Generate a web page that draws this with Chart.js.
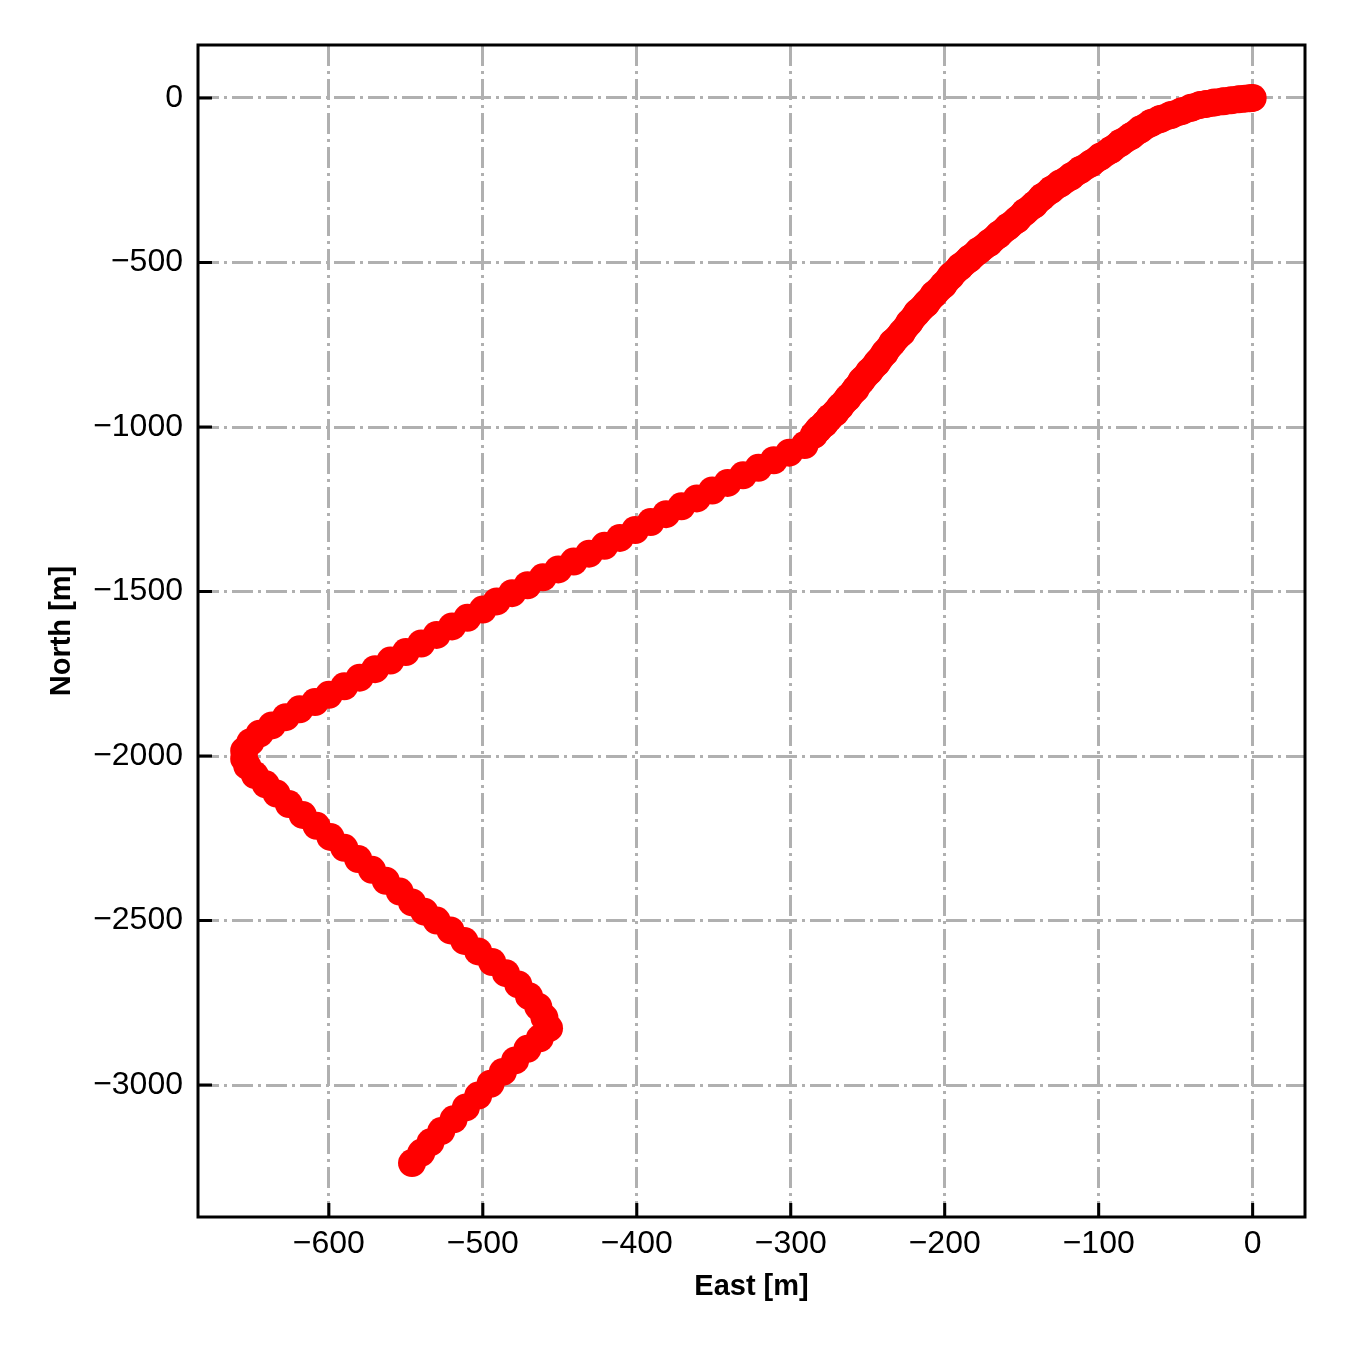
<!DOCTYPE html>
<html>
<head>
<meta charset="utf-8">
<script src="https://cdn.jsdelivr.net/npm/chart.js@4"></script>
<style>
  html, body { margin: 0; padding: 0; background: #fff; }
  #wrap { width: 1350px; height: 1350px; }
</style>
</head>
<body>
<div id="wrap"><canvas id="trajChart"></canvas></div>
<script>
// well path, plan view
const east = [
  0, -2, -5, -9, -14, -19, -25, -30, -34, -40, -46, -53, -60, -66,
  -73, -79, -86, -92, -99, -105, -112, -118, -125, -131, -137, -142, -148, -153,
  -159, -165, -171, -178, -184, -190, -196, -201, -207, -212, -218, -223, -228, -234,
  -239, -244, -249, -254, -258, -263, -268, -271, -275, -278, -282, -285,
  -291, -301, -311, -321, -331, -341, -351, -361, -371, -381, -391, -401, -411, -421,
  -431, -441, -451, -461, -471, -481, -491, -500, -510, -520, -530, -540, -550, -560,
  -570, -580, -590, -600, -609, -619, -628, -637, -645, -651, -655, -655,
  -653, -648, -641, -634, -626, -617, -608, -599, -590, -581, -572, -563, -554, -546,
  -538, -530, -521, -512, -503, -494, -485, -477, -470, -464, -460, -457,
  -463, -471, -479, -487, -495, -503, -511, -519, -527, -534, -540, -546
];
const north = [
  0, -1, -2, -4, -7, -10, -14, -18, -21, -30, -40, -52, -64, -76,
  -96, -116, -137, -158, -179, -199, -219, -239, -260, -280, -302, -325, -347, -370,
  -392, -416, -440, -465, -489, -513, -541, -569, -597, -625, -653, -683, -714, -744,
  -775, -805, -832, -859, -885, -912, -939, -956, -973, -990, -1007, -1024,
  -1055, -1078, -1101, -1124, -1147, -1170, -1193, -1217, -1241, -1265, -1289, -1313, -1337, -1361,
  -1385, -1409, -1433, -1457, -1481, -1505, -1530, -1555, -1580, -1606, -1632, -1658, -1684, -1710,
  -1736, -1762, -1788, -1814, -1836, -1858, -1882, -1907, -1932, -1958, -1984, -2008,
  -2030, -2058, -2086, -2114, -2146, -2179, -2212, -2246, -2279, -2313, -2346, -2379, -2412, -2445,
  -2473, -2500, -2530, -2562, -2594, -2626, -2660, -2694, -2730, -2762, -2795, -2827,
  -2858, -2890, -2925, -2960, -2996, -3032, -3068, -3104, -3140, -3174, -3206, -3237
];

const xTicks = [-600, -500, -400, -300, -200, -100, 0];
const yTicks = [0, -500, -1000, -1500, -2000, -2500, -3000];

const FONT = "'Liberation Sans', Arial, sans-serif";
const fmt = v => String(v).replace('-', '\u2212');
// the near-vertical top section is sampled so densely it reads as a solid band
const DENSE_END = 53;

// matplotlib-like frame + inward ticks
const frameTicks = {
  id: 'frameTicks',
  afterDraw(chart) {
    const { ctx, chartArea: a, scales } = chart;
    ctx.save();
    ctx.strokeStyle = '#000';
    ctx.lineWidth = 3;
    ctx.beginPath();
    xTicks.forEach(v => {
      const px = scales.x.getPixelForValue(v);
      ctx.moveTo(px, a.bottom);
      ctx.lineTo(px, a.bottom - 14);
    });
    yTicks.forEach(v => {
      const py = scales.y.getPixelForValue(v);
      ctx.moveTo(a.left, py);
      ctx.lineTo(a.left + 14, py);
    });
    ctx.stroke();
    ctx.strokeRect(a.left, a.top, a.right - a.left, a.bottom - a.top);
    ctx.restore();
  }
};

new Chart(document.getElementById('trajChart'), {
  type: 'scatter',
  data: {
    datasets: [{
      label: 'trajectory',
      data: east.map((e, i) => ({ x: e, y: north[i] })),
      pointRadius: 14,
      pointHoverRadius: 14,
      pointBackgroundColor: '#ff0000',
      pointBorderWidth: 0,
      showLine: true,
      borderColor: '#ff0000',
      borderWidth: 18,
      borderCapStyle: 'round',
      borderJoinStyle: 'round',
      tension: 0,
      segment: {
        borderWidth: c => (c.p1DataIndex <= DENSE_END ? 27 : 18)
      }
    }]
  },
  options: {
    responsive: true,
    maintainAspectRatio: false,
    animation: false,
    events: [],
    layout: { padding: { top: 45, right: 45, left: 0, bottom: 0 } },
    plugins: {
      legend: { display: false },
      tooltip: { enabled: false }
    },
    scales: {
      x: {
        type: 'linear',
        min: -685,
        max: 34,
        afterBuildTicks: s => { s.ticks = xTicks.map(v => ({ value: v })); },
        afterFit: s => { s.height = 133; },
        ticks: {
          color: '#000',
          padding: 8,
          maxRotation: 0,
          font: { family: FONT, size: 32 },
          callback: v => fmt(v)
        },
        grid: { color: '#b0b0b0', lineWidth: 3, drawTicks: false },
        border: { display: false, dash: [21, 5, 3, 5] },
        title: {
          display: true,
          text: 'East [m]',
          color: '#000',
          font: { family: FONT, size: 29, weight: 'bold' },
          padding: { top: 0, bottom: 46 }
        }
      },
      y: {
        type: 'linear',
        min: -3401,
        max: 161,
        afterBuildTicks: s => { s.ticks = yTicks.map(v => ({ value: v })); },
        afterFit: s => { s.width = 198; },
        ticks: {
          color: '#000',
          padding: 15,
          font: { family: FONT, size: 32 },
          callback: v => fmt(v)
        },
        grid: { color: '#b0b0b0', lineWidth: 3, drawTicks: false },
        border: { display: false, dash: [21, 5, 3, 5] },
        title: {
          display: true,
          text: 'North [m]',
          color: '#000',
          font: { family: FONT, size: 29, weight: 'bold' },
          padding: { top: 45, bottom: 0 }
        }
      }
    }
  },
  plugins: [frameTicks]
});
</script>
</body>
</html>
